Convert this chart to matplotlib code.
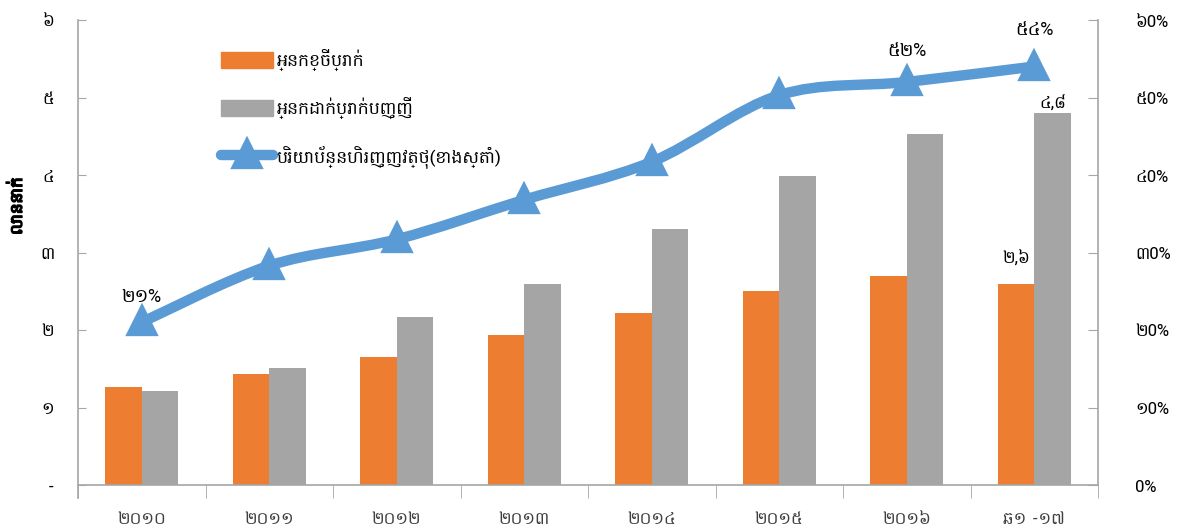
import matplotlib
matplotlib.use("Agg")
import matplotlib.pyplot as plt
import matplotlib.patheffects as pe
import numpy as np
from matplotlib import font_manager
from matplotlib.path import Path
from matplotlib.patches import PathPatch, Patch
from matplotlib.lines import Line2D

# data
years = ["២០១០", "២០១១", "២០១២", "២០១៣", "២០១៤", "២០១៥", "២០១៦", "ឆ១ -១៧"]
borrowers = [1.26, 1.43, 1.65, 1.94, 2.22, 2.50, 2.70, 2.6]
depositors = [1.21, 1.51, 2.17, 2.59, 3.30, 3.99, 4.53, 4.8]
inclusion = [21, 28.3, 31.7, 36.8, 41.7, 50.3, 52, 54]
left_ticks = ["-", "១", "២", "៣", "៤", "៥", "៦"]
right_ticks = ["0%", "១0%", "២0%", "៣0%", "៤0%", "៥0%", "៦0%"]
legend_labels = ["អ្នកខ្ចីប្រាក់", "អ្នកដាក់ប្រាក់បញ្ញើ", "បរិយាប័ន្នហិរញ្ញវត្ថុ(ខាងស្តាំ)"]
ylabel = "លាននាក់"

ORANGE = "#ED7D31"
GREY = "#A5A5A5"
BLUE = "#5B9BD5"
AXIS = "#A6A6A6"

# pick a font that has Khmer glyphs
installed = {f.name for f in font_manager.fontManager.ttflist}
khmer = [n for n in ["Khmer OS System", "Khmer OS", "Khmer OS Content", "Hanuman", "Battambang"] if n in installed]
plt.rcParams["font.family"] = khmer[:1] + ["DejaVu Sans"]

kh_digits = "០១២៣៤៥៦៧៨៩"


def to_khmer(s):
    return "".join(kh_digits[int(c)] if c.isdigit() else c for c in s)


fig = plt.figure(figsize=(11.78, 5.31), dpi=100)
ax = fig.add_axes([78 / 1178, 46 / 531, 1020 / 1178, 465 / 531])
x = np.arange(len(years))
w = 0.285

ax.bar(x - w / 2, borrowers, w, color=ORANGE, zorder=2)
ax.bar(x + w / 2, depositors, w, color=GREY, zorder=2)

ax.set_xlim(-0.5, len(years) - 0.5)
ax.set_ylim(0, 6)
ax.set_yticks(range(7))
ax.set_yticklabels(left_ticks, fontsize=12)
ax.set_xticks(x)
ax.set_xticklabels(years, fontsize=12, color="#404040")
ax.set_xticks(np.arange(-0.5, len(years)), minor=True)
ax.tick_params(axis="x", which="major", length=0, pad=19)
ax.tick_params(axis="x", which="minor", length=9, color=AXIS, direction="out")
ax.tick_params(axis="y", length=6, color=AXIS, direction="in", pad=17)
ax.set_ylabel(ylabel, fontsize=12,
              path_effects=[pe.withStroke(linewidth=1.1, foreground="black")])
ax.yaxis.set_label_coords(-0.052, 0.60)
for s in ["top", "right"]:
    ax.spines[s].set_visible(False)
for s in ["left", "bottom"]:
    ax.spines[s].set_color(AXIS)
    ax.spines[s].set_linewidth(1.2)
ax.spines["left"].set_bounds(-0.17, 6)

# bar value labels on the last period
ax.annotate(to_khmer("2,6"), (x[-1] - w / 2, borrowers[-1]), xytext=(0, 12),
            textcoords="offset points", ha="center", va="bottom", fontsize=12)
ax.annotate(to_khmer("4,8"), (x[-1] + w / 2, depositors[-1]), xytext=(0, 1),
            textcoords="offset points", ha="center", va="bottom", fontsize=12)

# right axis: financial inclusion
ax2 = ax.twinx()
ax2.set_ylim(0, 60)
ax2.set_yticks(range(0, 70, 10))
ax2.set_yticklabels(right_ticks, fontsize=12)
ax2.tick_params(axis="y", length=7, color=AXIS, direction="in", pad=27)
for s in ["top", "left", "bottom"]:
    ax2.spines[s].set_visible(False)
ax2.spines["right"].set_color(AXIS)
ax2.spines["right"].set_linewidth(1.2)

# smoothed line through the points (Catmull-Rom as cubic Bezier)
pts = np.column_stack([x, inclusion]).astype(float)
ext = np.vstack([pts[0], pts, pts[-1]])
verts = [pts[0]]
codes = [Path.MOVETO]
for i in range(len(pts) - 1):
    p0, p1, p2, p3 = ext[i], ext[i + 1], ext[i + 2], ext[i + 3]
    verts += [p1 + (p2 - p0) / 6, p2 - (p3 - p1) / 6, p2]
    codes += [Path.CURVE4] * 3
ax2.add_patch(PathPatch(Path(verts, codes), facecolor="none", edgecolor=BLUE,
                        lw=7.5, capstyle="round", joinstyle="round", zorder=3))
ax2.plot(x, inclusion, ls="none", marker="^", ms=14, color=BLUE, mec=BLUE, mew=6,
         zorder=4)
for i, dy in [(0, 12), (6, 16), (7, 20)]:
    ax2.annotate(to_khmer(f"{inclusion[i]:.0f}") + "%", (x[i], inclusion[i]), xytext=(0, dy),
                 textcoords="offset points", ha="center", va="bottom", fontsize=13)

handles = [Patch(color=ORANGE), Patch(color=GREY),
           Line2D([], [], color=BLUE, lw=7.5, marker="^", ms=14, mew=6, solid_capstyle="round")]
fig.legend(handles, legend_labels, loc="upper left", bbox_to_anchor=(212 / 1178, 1 - 40 / 531),
           frameon=False, fontsize=12.5, handlelength=3.0, handleheight=1.0,
           labelspacing=1.5, handletextpad=0.2, borderpad=0)

fig.savefig("out.png")
